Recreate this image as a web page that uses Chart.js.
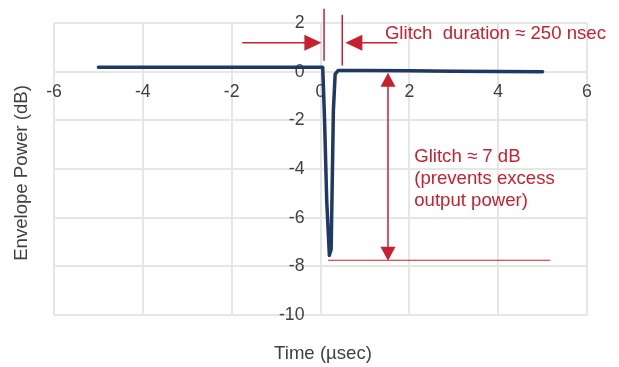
<!DOCTYPE html>
<html>
<head>
<meta charset="utf-8">
<title>Envelope Power glitch</title>
<script src="https://cdn.jsdelivr.net/npm/chart.js@4.4.0/dist/chart.umd.min.js"></script>
<style>
  html, body { margin: 0; padding: 0; background: #fff; }
  #wrap { width: 619px; height: 367px; }
</style>
</head>
<body>
<div id="wrap"><canvas id="glitch-chart"></canvas></div>
<script>
// trace (time in usec, power in dB)
const timeUs  = [-5, 0.05, 0.09, 0.14, 0.2, 0.24, 0.29, 0.33, 0.4, 1, 2, 3, 4, 5];
const powerDb = [0.18, 0.18, -1.9, -5.3, -7.55, -7.3, -1.6, -0.1, 0.05, 0.05, 0.04, 0.02, 0.01, 0.0];

const xTicks = [-6, -4, -2, 0, 2, 4, 6];
const yTicks = [2, 0, -2, -4, -6, -8, -10];

// callouts, in data units
const glitchEdges = [0.08, 0.49];
const glitchDepth = [-0.04, -7.77];
const depthArrowX = 1.52;
const floorLine = [0.17, 5.17];
const durationText = "Glitch  duration \u2248 250 nsec";
const depthText = ["Glitch \u2248 7 dB", "(prevents excess", "output power)"];

const RED = "#c8202f";
const FONT = "'Liberation Sans', Arial, sans-serif";

function arrowHead(ctx, x1, y1, x2, y2, len, half) {
  const a = Math.atan2(y2 - y1, x2 - x1);
  ctx.beginPath();
  ctx.moveTo(x2, y2);
  ctx.lineTo(x2 - len * Math.cos(a) + half * Math.sin(a), y2 - len * Math.sin(a) - half * Math.cos(a));
  ctx.lineTo(x2 - len * Math.cos(a) - half * Math.sin(a), y2 - len * Math.sin(a) + half * Math.cos(a));
  ctx.closePath();
  ctx.fill();
}

function line(ctx, x1, y1, x2, y2) {
  ctx.beginPath();
  ctx.moveTo(x1, y1);
  ctx.lineTo(x2, y2);
  ctx.stroke();
}

const glitchNotes = {
  id: "glitchNotes",
  afterDraw(chart) {
    const ctx = chart.ctx;
    const x = chart.scales.x, y = chart.scales.y;
    ctx.save();
    ctx.strokeStyle = RED;
    ctx.fillStyle = RED;

    // duration markers
    ctx.lineWidth = 1.5;
    line(ctx, x.getPixelForValue(glitchEdges[0]), y.getPixelForValue(2.59), x.getPixelForValue(glitchEdges[0]), y.getPixelForValue(0.45));
    line(ctx, x.getPixelForValue(glitchEdges[1]), y.getPixelForValue(2.34), x.getPixelForValue(glitchEdges[1]), y.getPixelForValue(0.25));

    const ay = y.getPixelForValue(1.19);
    const lx1 = x.getPixelForValue(-1.76), lx2 = x.getPixelForValue(0.02);
    line(ctx, lx1, ay, lx2 - 10, ay);
    arrowHead(ctx, lx1, ay, lx2, ay, 17, 8);
    const rx1 = x.getPixelForValue(1.73), rx2 = x.getPixelForValue(0.56);
    line(ctx, rx1, ay, rx2 + 10, ay);
    arrowHead(ctx, rx1, ay, rx2, ay, 17, 8);

    // depth arrow + floor line
    const dx = x.getPixelForValue(depthArrowX);
    const dTop = y.getPixelForValue(glitchDepth[0]), dBot = y.getPixelForValue(glitchDepth[1]);
    line(ctx, dx, dTop + 8, dx, dBot - 8);
    arrowHead(ctx, dx, dBot, dx, dTop, 14, 7.5);
    arrowHead(ctx, dx, dTop, dx, dBot, 14, 7.5);
    ctx.lineWidth = 1.2;
    const fy = y.getPixelForValue(-7.75);
    line(ctx, x.getPixelForValue(floorLine[0]), fy, x.getPixelForValue(floorLine[1]), fy);

    // texts
    ctx.font = "18.6px " + FONT;
    ctx.textAlign = "left";
    ctx.textBaseline = "middle";
    ctx.fillText(durationText, x.getPixelForValue(1.45), y.getPixelForValue(1.56));
    const tx = x.getPixelForValue(2.11);
    depthText.forEach((t, i) => {
      ctx.fillText(t, tx, y.getPixelForValue(-3.49) + i * 22);
    });

    // axis titles
    ctx.fillStyle = "#404040";
    ctx.textAlign = "center";
    ctx.fillText("Time (\u00b5sec)", 323, 354);
    ctx.translate(22, 173);
    ctx.rotate(-Math.PI / 2);
    ctx.fillText("Envelope Power (dB)", 0, 0);
    ctx.restore();
  }
};

const points = timeUs.map((t, i) => ({ x: t, y: powerDb[i] }));

new Chart(document.getElementById("glitch-chart").getContext("2d"), {
  type: "scatter",
  data: {
    datasets: [{
      label: "Envelope Power",
      data: points,
      showLine: true,
      borderColor: "#1f3864",
      borderWidth: 3.5,
      borderJoinStyle: "round",
      borderCapStyle: "round",
      pointRadius: 0,
      tension: 0
    }]
  },
  options: {
    responsive: true,
    maintainAspectRatio: false,
    animation: false,
    layout: { padding: { left: 54, top: 23, right: 32, bottom: 52 } },
    plugins: { legend: { display: false }, tooltip: { enabled: false } },
    scales: {
      x: {
        type: "linear",
        position: { y: 0 },
        min: xTicks[0],
        max: xTicks[xTicks.length - 1],
        ticks: { stepSize: 2, padding: 10, color: "#404040", font: { family: FONT, size: 17.7 } },
        grid: { color: "#e6e6e6", lineWidth: 2, drawTicks: false },
        border: { display: false }
      },
      y: {
        type: "linear",
        // labels sit a little left of the x=0 gridline
        position: { x: -0.36 },
        min: yTicks[yTicks.length - 1],
        max: yTicks[0],
        ticks: { stepSize: 2, color: "#404040", font: { family: FONT, size: 17.7 } },
        grid: { color: "#e6e6e6", lineWidth: 2, drawTicks: false },
        border: { display: false }
      }
    }
  },
  plugins: [glitchNotes]
});
</script>
</body>
</html>
